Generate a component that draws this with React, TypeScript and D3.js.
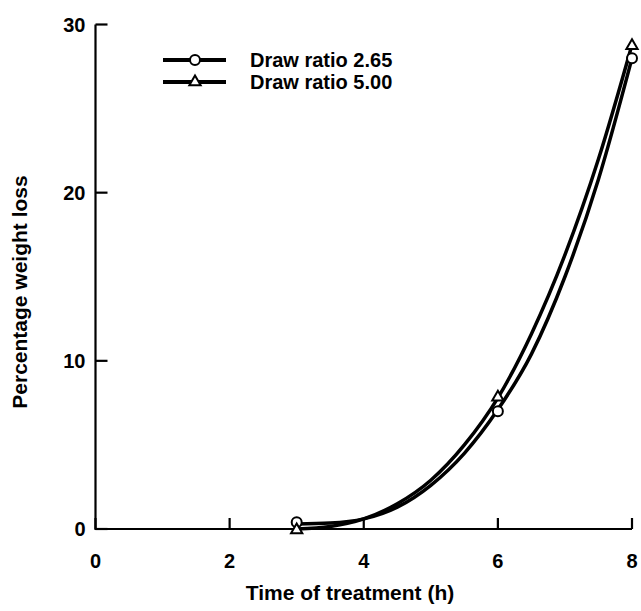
import React from 'react'
import { scaleLinear, line, curveMonotoneX, symbol, symbolTriangle } from 'd3'

// measured points
const timeX = [3, 6, 8]
const ratio265 = [0.4, 7.0, 28.0]
const ratio500 = [0.0, 7.9, 28.8]

// fitted curves
const fitX = [3, 3.5, 4, 4.5, 5, 5.5, 6, 6.5, 7, 7.5, 8]
const fit265 = [0.3, 0.35, 0.6, 1.3, 2.6, 4.5, 7.1, 10.4, 15.0, 20.8, 28.0]
const fit500 = [0.0, 0.15, 0.6, 1.5, 2.9, 5.0, 7.8, 11.6, 16.3, 22.0, 28.8]

const xTicks = [0, 2, 4, 6, 8]
const yTicks = [0, 10, 20, 30]

const font = '"Liberation Sans", Arial, sans-serif'

export default function App() {
  const xScale = scaleLinear().domain([0, 8]).range([95.5, 632])
  const yScale = scaleLinear().domain([0, 30]).range([529, 24.5])

  const path = line<number>()
    .x((_, i) => xScale(fitX[i]))
    .y(d => yScale(d))
    .curve(curveMonotoneX)

  const tri = symbol().type(symbolTriangle).size(55)()

  const Circ = ({ cx, cy }: { cx: number; cy: number }) =>
    <circle cx={cx} cy={cy} r={5} fill="white" stroke="black" strokeWidth={2} />
  const Tri = ({ cx, cy }: { cx: number; cy: number }) =>
    <path d={tri as string} transform={`translate(${cx},${cy + 1})`} fill="white" stroke="black" strokeWidth={2} />

  return (
    <svg width={641} height={611} style={{ position: 'absolute', left: 0, top: 0, background: 'white' }}
      fontFamily={font} fontWeight="bold">
      {/* axes */}
      <g stroke="black" strokeWidth={2.2} fill="none">
        <path d={`M${xScale(0)},${yScale(30)}V${yScale(0)}H${xScale(8)}`} />
        {yTicks.map(t =>
          <line key={t} x1={xScale(0)} x2={xScale(0) + 12} y1={yScale(t)} y2={yScale(t)} />)}
        {xTicks.map(t =>
          <line key={t} x1={xScale(t)} x2={xScale(t)} y1={yScale(0)} y2={yScale(0) - 11} />)}
      </g>
      <g fontSize={20} textAnchor="end">
        {yTicks.map(t =>
          <text key={t} x={xScale(0) - 10} y={yScale(t) + 7}>{t}</text>)}
      </g>
      <g fontSize={20} textAnchor="middle">
        {xTicks.map(t =>
          <text key={t} x={xScale(t)} y={yScale(0) + 39}>{t}</text>)}
      </g>
      <text x={350} y={600} fontSize={21} textAnchor="middle">Time of treatment (h)</text>
      <text transform="translate(27,292) rotate(-90)" fontSize={21} textAnchor="middle">Percentage weight loss</text>

      {/* curves */}
      <path d={path(fit265) ?? ''} fill="none" stroke="black" strokeWidth={3.5} />
      <path d={path(fit500) ?? ''} fill="none" stroke="black" strokeWidth={3.5} />

      {/* points */}
      {timeX.map((t, i) => <Circ key={'c' + t} cx={xScale(t)} cy={yScale(ratio265[i])} />)}
      {timeX.map((t, i) => <Tri key={'t' + t} cx={xScale(t)} cy={yScale(ratio500[i])} />)}

      {/* legend */}
      <g>
        <line x1={163} x2={226} y1={60} y2={60} stroke="black" strokeWidth={4} />
        <Circ cx={195} cy={60} />
        <text x={250} y={67} fontSize={20}>Draw ratio 2.65</text>
        <line x1={163} x2={226} y1={82} y2={82} stroke="black" strokeWidth={4} />
        <Tri cx={195} cy={81} />
        <text x={250} y={89} fontSize={20}>Draw ratio 5.00</text>
      </g>
    </svg>
  )
}
